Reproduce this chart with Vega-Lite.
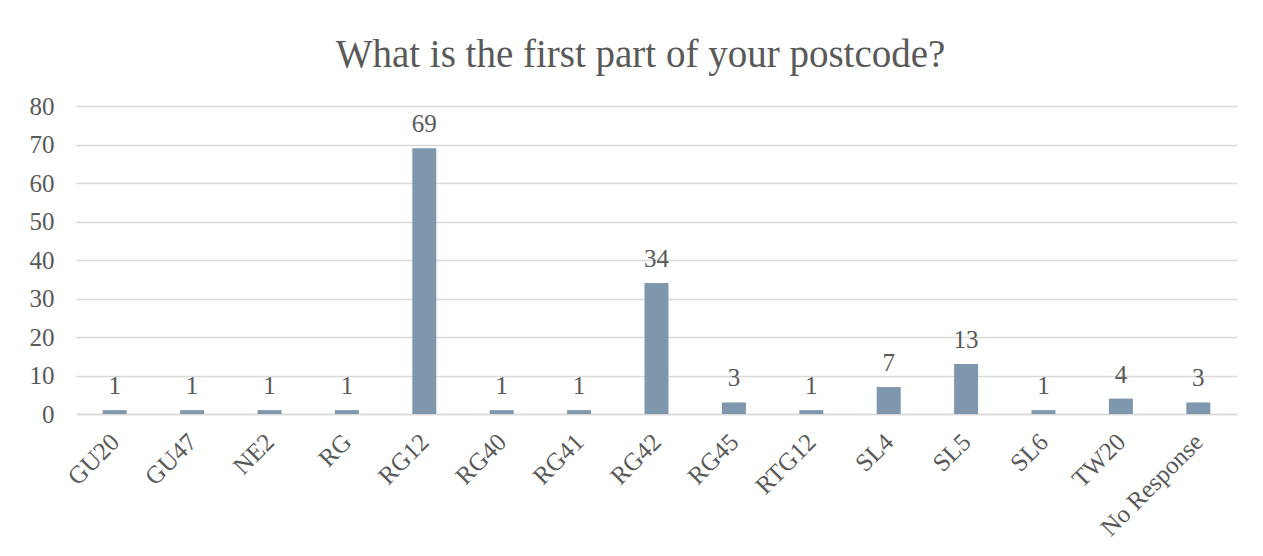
{
  "$schema": "https://vega.github.io/schema/vega-lite/v6.json",
  "width": 1161,
  "height": 308,
  "autosize": {"type": "none"},
  "padding": {"left": 76, "top": 106, "right": 26, "bottom": 142},
  "background": "#ffffff",
  "config": {
    "view": {"stroke": null},
    "font": "Liberation Serif",
    "axis": {"labelFont": "Liberation Serif", "labelColor": "#595959", "labelFontSize": 25}
  },
  "title": {
    "text": "What is the first part of your postcode?",
    "font": "Liberation Serif",
    "fontSize": 39,
    "fontWeight": "normal",
    "color": "#595959",
    "anchor": "middle",
    "frame": "group",
    "dx": -16,
    "baseline": "alphabetic",
    "offset": -12
  },
  "data": {
    "values": [
      {"code": "GU20", "count": 1},
      {"code": "GU47", "count": 1},
      {"code": "NE2", "count": 1},
      {"code": "RG", "count": 1},
      {"code": "RG12", "count": 69},
      {"code": "RG40", "count": 1},
      {"code": "RG41", "count": 1},
      {"code": "RG42", "count": 34},
      {"code": "RG45", "count": 3},
      {"code": "RTG12", "count": 1},
      {"code": "SL4", "count": 7},
      {"code": "SL5", "count": 13},
      {"code": "SL6", "count": 1},
      {"code": "TW20", "count": 4},
      {"code": "No Response", "count": 3}
    ]
  },
  "encoding": {
    "x": {
      "field": "code",
      "type": "nominal",
      "sort": null,
      "scale": {"paddingInner": 0.69, "paddingOuter": 0.345},
      "axis": {
        "title": null,
        "labelAngle": -45,
        "ticks": false,
        "domain": true,
        "domainColor": "#d9d9d9",
        "domainWidth": 1.5,
        "labelPadding": 15,
        "labelOffset": -8,
        "labelFontSize": 25
      }
    },
    "y": {
      "field": "count",
      "type": "quantitative",
      "scale": {"domain": [0, 80], "nice": false},
      "axis": {
        "title": null,
        "values": [0, 10, 20, 30, 40, 50, 60, 70, 80],
        "ticks": false,
        "domain": false,
        "grid": true,
        "gridColor": "#d9d9d9",
        "gridWidth": 1.5,
        "labelPadding": 22,
        "labelFontSize": 25
      }
    }
  },
  "layer": [
    {"mark": {"type": "bar", "color": "#7f97ad"}},
    {
      "mark": {"type": "text", "baseline": "alphabetic", "dy": -16, "fontSize": 25, "color": "#595959", "font": "Liberation Serif"},
      "encoding": {"text": {"field": "count", "type": "quantitative"}}
    }
  ]
}
